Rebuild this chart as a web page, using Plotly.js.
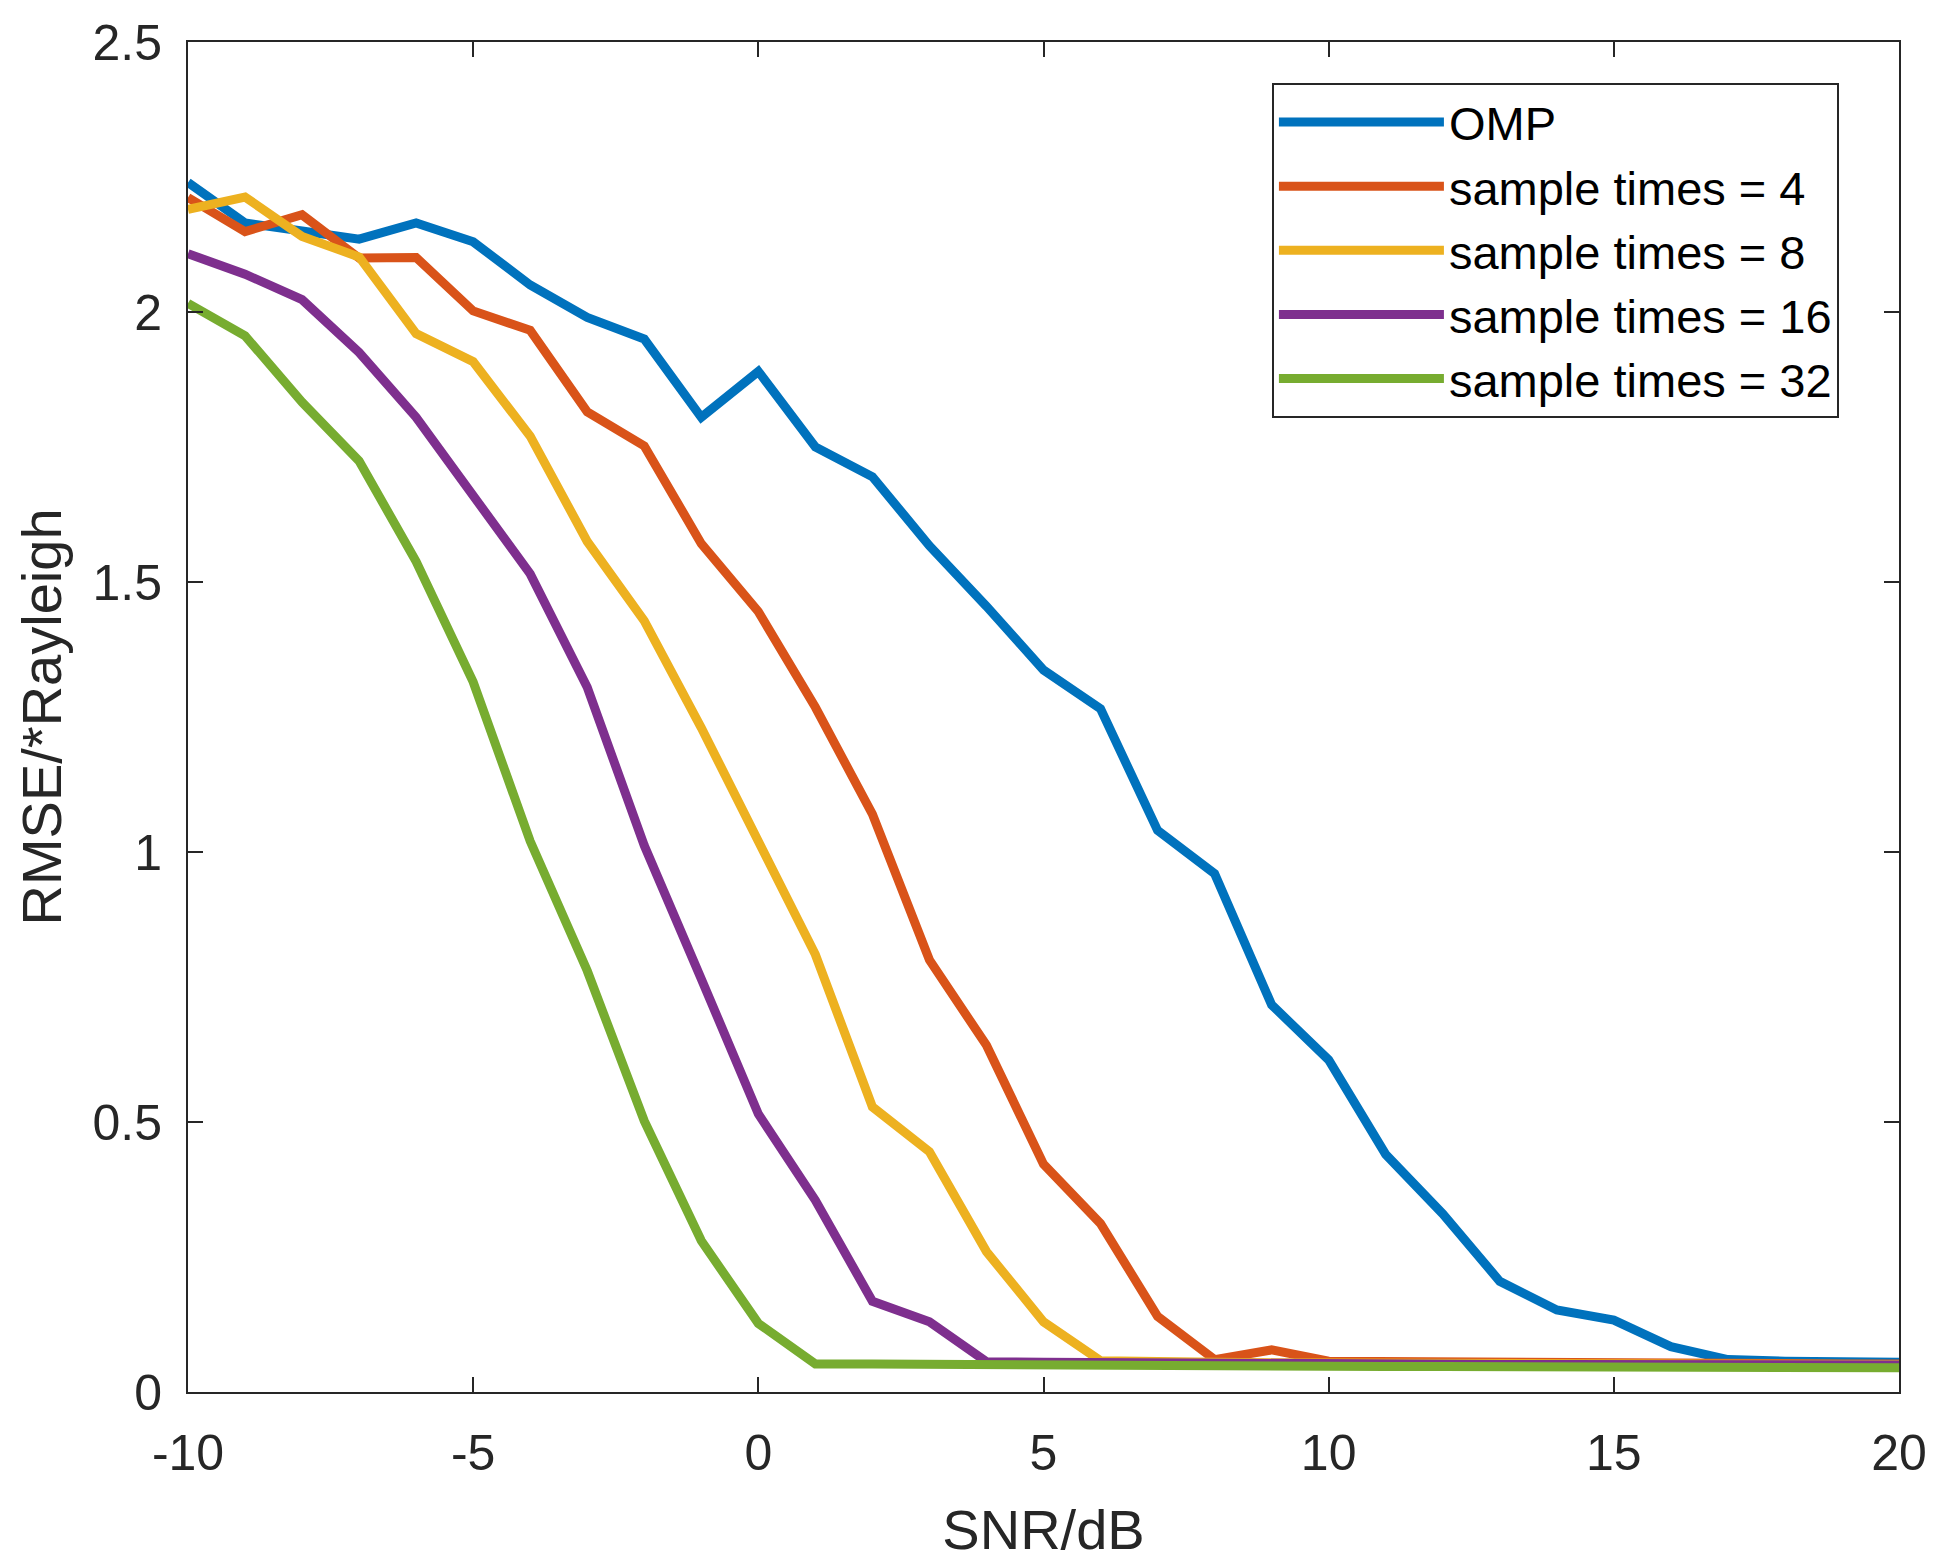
<!DOCTYPE html>
<html>
<head>
<meta charset="utf-8">
<script src="https://cdn.plot.ly/plotly-3.0.1.min.js"></script>
<style>
  html, body { margin: 0; padding: 0; background: #fff; }
  #chart { width: 1941px; height: 1568px; }
</style>
</head>
<body>
<div id="chart"></div>
<script>
// SNR axis, -10 .. 20 dB in 1 dB steps
const snr = [-10, -9, -8, -7, -6, -5, -4, -3, -2, -1, 0, 1, 2, 3, 4, 5, 6, 7, 8, 9, 10,
  11, 12, 13, 14, 15, 16, 17, 18, 19, 20];

const omp = [2.24, 2.165, 2.15, 2.135, 2.165, 2.13, 2.05, 1.99, 1.95, 1.805, 1.89,
  1.75, 1.695, 1.567, 1.455, 1.337, 1.265, 1.04, 0.96, 0.717, 0.615,
  0.44, 0.33, 0.205, 0.152, 0.133, 0.084, 0.06, 0.057, 0.056, 0.055];

const times4 = [2.212, 2.149, 2.18, 2.1, 2.101, 2.002, 1.966, 1.815, 1.752, 1.571, 1.445,
  1.268, 1.07, 0.8, 0.642, 0.422, 0.312, 0.14, 0.06, 0.078, 0.057,
  0.056, 0.055, 0.055, 0.054, 0.054, 0.053, 0.053, 0.053, 0.052, 0.052];

const times8 = [2.19, 2.213, 2.14, 2.102, 1.96, 1.908, 1.77, 1.575, 1.428, 1.23, 1.02,
  0.81, 0.528, 0.445, 0.26, 0.13, 0.058, 0.055, 0.055, 0.054, 0.054,
  0.054, 0.053, 0.053, 0.053, 0.052, 0.052, 0.052, 0.052, 0.051, 0.051];

const times16 = [2.108, 2.07, 2.023, 1.925, 1.805, 1.66, 1.515, 1.305, 1.012, 0.765, 0.515,
  0.355, 0.168, 0.13, 0.056, 0.055, 0.054, 0.054, 0.053, 0.053, 0.052,
  0.052, 0.052, 0.051, 0.051, 0.051, 0.05, 0.05, 0.05, 0.05, 0.05];

const times32 = [2.016, 1.956, 1.833, 1.724, 1.538, 1.315, 1.02, 0.78, 0.502, 0.28, 0.127,
  0.052, 0.052, 0.051, 0.05, 0.05, 0.049, 0.049, 0.048, 0.048, 0.048,
  0.047, 0.047, 0.047, 0.046, 0.046, 0.046, 0.046, 0.045, 0.045, 0.045];

const seriesNames = ["OMP", "sample times = 4", "sample times = 8", "sample times = 16", "sample times = 32"];
const seriesColors = ["#0072BD", "#D95319", "#EDB120", "#7E2F8E", "#77AC30"];

const xTickVals = [-10, -5, 0, 5, 10, 15, 20];
const xTickText = ["-10", "-5", "0", "5", "10", "15", "20"];
const yTickVals = [0, 0.5, 1, 1.5, 2, 2.5];
const yTickText = ["0", "0.5", "1", "1.5", "2", "2.5"];

const fontFamily = "Liberation Sans, Arial, sans-serif";
const ink = "#262626";

const allSeries = [omp, times4, times8, times16, times32];
const traces = allSeries.map(function (ys, i) {
  return {
    x: snr,
    y: ys,
    type: "scatter",
    mode: "lines",
    name: seriesNames[i],
    line: { color: seriesColors[i], width: 9 },
  };
});

const axisCommon = {
  showline: true,
  linecolor: ink,
  linewidth: 2,
  mirror: "ticks",
  ticks: "inside",
  ticklen: 15,
  tickwidth: 2,
  tickcolor: ink,
  showgrid: false,
  zeroline: false,
  tickfont: { family: fontFamily, size: 50, color: ink },
};

const layout = {
  width: 1941,
  height: 1568,
  margin: { l: 188, r: 42, t: 42, b: 176 },
  paper_bgcolor: "#ffffff",
  plot_bgcolor: "#ffffff",
  showlegend: true,
  legend: {
    x: 0.6335,
    y: 0.9696,
    xanchor: "left",
    yanchor: "top",
    bordercolor: ink,
    borderwidth: 2,
    bgcolor: "#ffffff",
    font: { family: fontFamily, size: 47, color: "#000000" },
    itemwidth: 165,
    tracegroupgap: 0,
  },
  xaxis: Object.assign({}, axisCommon, {
    range: [-10, 20],
    tickvals: xTickVals,
    ticktext: xTickText,
    ticklabelstandoff: 16,
    title: { text: "SNR/dB", font: { family: fontFamily, size: 56, color: ink }, standoff: 30 },
  }),
  yaxis: Object.assign({}, axisCommon, {
    range: [0, 2.5],
    tickvals: yTickVals,
    ticktext: yTickText,
    ticklabelstandoff: 14,
    title: { text: "RMSE/*Rayleigh", font: { family: fontFamily, size: 56, color: ink }, standoff: 13 },
  }),
};

Plotly.newPlot(document.getElementById("chart"), traces, layout, { displayModeBar: false, staticPlot: true });
</script>
</body>
</html>
